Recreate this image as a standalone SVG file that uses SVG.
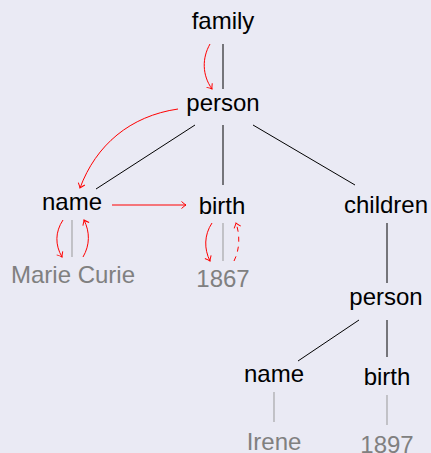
<svg xmlns="http://www.w3.org/2000/svg" width="431" height="453" viewBox="0 0 431 453">
<style>
text{font-family:"Liberation Sans","DejaVu Sans",sans-serif;font-size:24px;text-anchor:middle;fill:#000}
.v{fill:#808080}
.e{stroke:#000;stroke-width:1;fill:none}
.g{stroke:#999;stroke-width:1;fill:none}
.r{stroke:#f00;stroke-width:1;fill:none;marker-end:url(#ah)}
</style>
<defs>
<marker id="ah" viewBox="-6 -5 8 10" markerWidth="8" markerHeight="10" refX="0" refY="0" orient="auto" markerUnits="userSpaceOnUse">
<path d="M-4.5,-3.5 Q-1.5,-0.8 0,0 Q-1.5,0.8 -4.5,3.5" fill="none" stroke="#f00" stroke-width="1"/>
</marker>
</defs>
<rect width="431" height="453" fill="#EAEAF4"/>
<g id="connectors">
<line class="e" x1="223" y1="44" x2="223" y2="89"/>
<line class="e" x1="195" y1="125" x2="96" y2="189"/>
<line class="e" x1="223" y1="125" x2="223" y2="185"/>
<line class="e" x1="253" y1="125" x2="355" y2="185"/>
<line class="g" x1="72" y1="220" x2="72" y2="257"/>
<line class="g" x1="223" y1="223" x2="223" y2="261"/>
<line class="e" x1="387" y1="223" x2="387" y2="283"/>
<line class="e" x1="359" y1="320" x2="298" y2="361"/>
<line class="e" x1="387" y1="320" x2="387" y2="357"/>
<line class="g" x1="274" y1="392" x2="274" y2="422"/>
<line class="g" x1="387" y1="395" x2="387" y2="425"/>
<path class="r" d="M210,44 C202,58 202,75 212,89"/>
<path class="r" d="M178,109 C130,116 96,145 80,188"/>
<path class="r" d="M112,205 L186,205"/>
<path class="r" d="M63,220 C55,232 55,245 62,257"/>
<path class="r" d="M83,257 C90,245 90,232 84,220"/>
<path class="r" d="M212,223 C204,235 204,249 210,261"/>
<path class="r" d="M234,261 C240,249 240,235 236,223" stroke-dasharray="5,5"/>
</g>
<g id="n-family"><text x="223" y="29">family</text></g>
<g id="n-person"><text x="223" y="111">person</text></g>
<g id="n-name"><text x="72" y="210">name</text></g>
<g id="n-birth"><text x="222" y="214">birth</text></g>
<g id="n-children"><text x="386" y="213">children</text></g>
<g id="n-mariecurie"><text class="v" x="73" y="283">Marie Curie</text></g>
<g id="n-1867"><text class="v" x="223" y="287">1867</text></g>
<g id="n-person2"><text x="386" y="305">person</text></g>
<g id="n-name2"><text x="274" y="382">name</text></g>
<g id="n-birth2"><text x="387" y="385">birth</text></g>
<g id="n-irene"><text class="v" x="274" y="450">Irene</text></g>
<g id="n-1897"><text class="v" x="387" y="453">1897</text></g>
</svg>
